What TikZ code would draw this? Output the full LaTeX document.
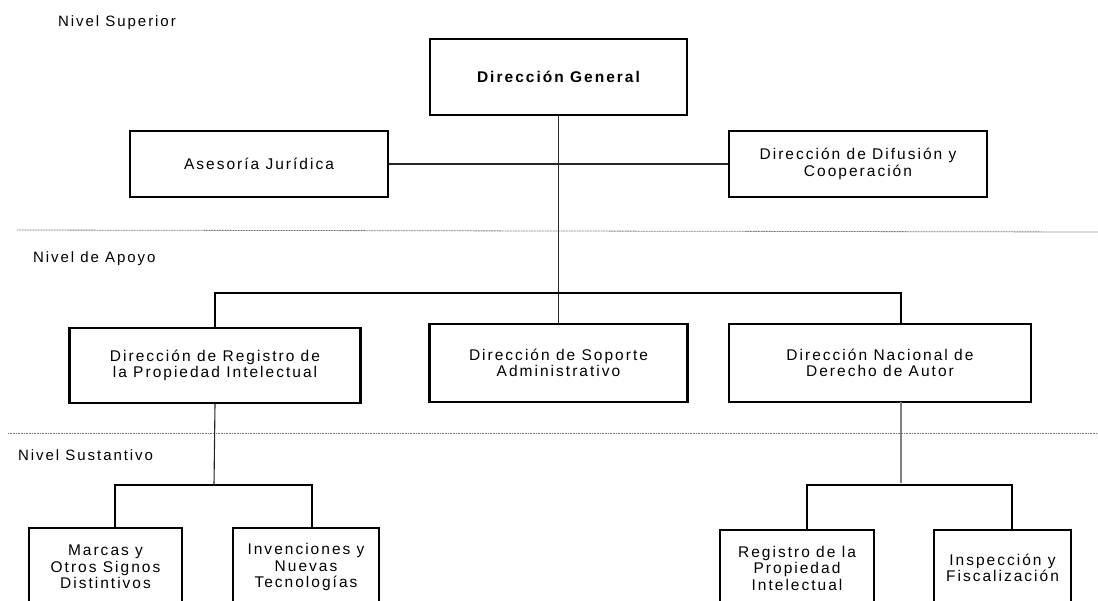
\documentclass[tikz,border=0pt]{standalone}
\usepackage{fontspec}
\setmainfont{Liberation Sans}[LetterSpace=13]
\usetikzlibrary{calc}
\begin{document}
\begin{tikzpicture}[x=1pt,y=-1pt,
  box/.style={draw=black,line width=2.4pt,fill=white,align=center,inner sep=0pt,
    font=\fontsize{15.5}{16.5}\selectfont},
  conn/.style={draw=black!85,line width=1.3pt},
  thick conn/.style={draw=black,line width=2.2pt},
  gconn/.style={draw=black!50,line width=1.6pt},
  level/.style={draw=black!55,line width=0.8pt,dash pattern=on 1pt off 0.6pt},
  lvl/.style={anchor=west,inner sep=0pt,font=\fontsize{15}{16}\selectfont}]
\useasboundingbox (0,0) rectangle (1098,600);
\clip (0,0) rectangle (1098,600);
\fill[white] (0,0) rectangle (1098,600);
% level separators
\draw[level] (17,230) -- (1098,232);
\draw[level] (8,433) -- (1098,433);
% level labels
\node[lvl] (l1) at (58,23) {Nivel Superior};
\node[lvl] (l2) at (33,259) {Nivel de Apoyo};
\node[lvl] (l3) at (18,455) {Nivel Sustantivo};
% boxes
\node[box,minimum width=257,minimum height=76] (dg) at (558.5,77) {\bfseries Dirección General};
\node[box,minimum width=258,minimum height=66] (aj) at (259,164) {Asesoría Jurídica};
\node[box,minimum width=258,minimum height=66] (ddc) at (858,164) {Dirección de Difusión y\\Cooperación};
\node[box,minimum width=291,minimum height=75] (drpi) at (215,365.5) {Dirección de Registro de\\la Propiedad Intelectual};
\node[box,minimum width=258,minimum height=78] (dsa) at (558.5,363) {Dirección de Soporte\\Administrativo};
\node[box,minimum width=302,minimum height=78] (dnda) at (880,363) {Dirección Nacional de\\Derecho de Autor};
\node[box,minimum width=153,minimum height=78] (mar) at (105.5,567) {Marcas y\\Otros Signos\\Distintivos};
\node[box,minimum width=146,minimum height=78] (inv) at (306,567) {Invenciones y\\Nuevas\\Tecnologías};
\node[box,minimum width=154,minimum height=76] (rpi) at (797,568) {Registro de la\\Propiedad\\Intelectual};
\node[box,minimum width=137,minimum height=76] (ins) at (1002.5,568) {Inspección y\\Fiscalización};
% connection points
\coordinate (b2) at (558.5,293);
\coordinate (dnT) at (901,324);
\coordinate (dnB) at (901,402);
\coordinate (lb) at (214,485);
\coordinate (mT) at (115,528);
\coordinate (iT) at (312,528);
\coordinate (rb) at (901,483);
\coordinate (rT) at (807,530);
\coordinate (sT) at (1012,530);
% connectors
\draw[conn] (dg.south) -- (dsa.north);
\draw[conn] (aj.east) -- (ddc.west);
\draw[thick conn] (drpi.north) |- (b2) -| (dnT);
\draw[conn,line width=1.1pt] (drpi.south) -- (lb);
\draw[thick conn] (mT) |- (lb) -| (iT);
\draw[gconn] (dnB) -- (rb);
\draw[thick conn] (rT) |- ($(rb)+(0,2)$) -| (sT);
\end{tikzpicture}
\end{document}
